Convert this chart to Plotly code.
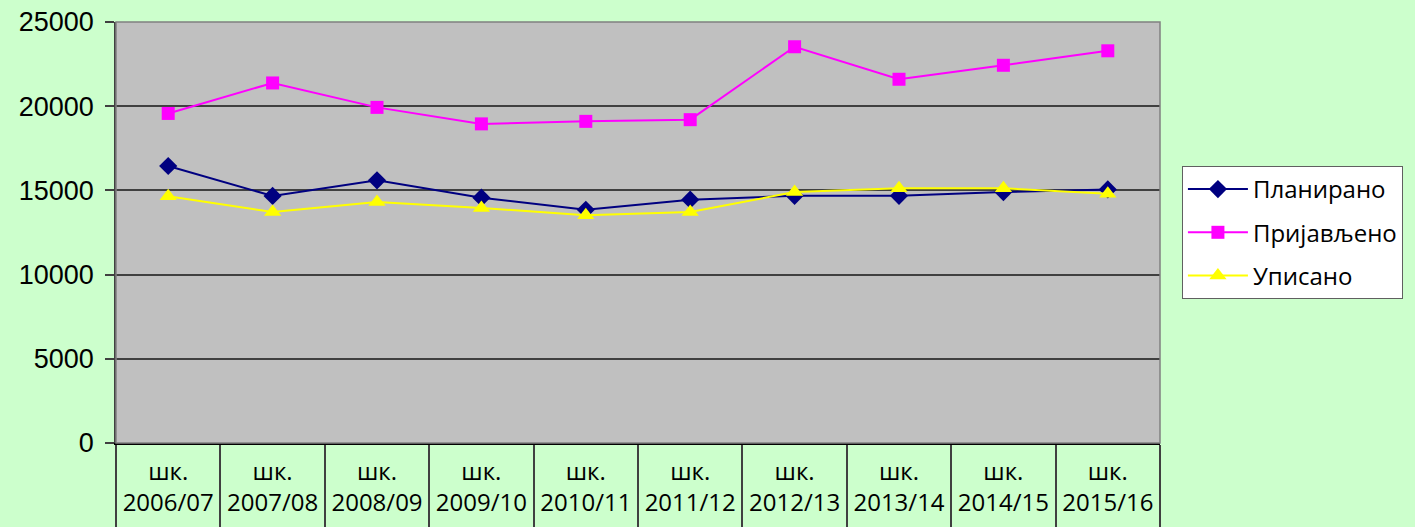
import plotly.graph_objects as go

categories = ["шк.<br>2006/07", "шк.<br>2007/08", "шк.<br>2008/09", "шк.<br>2009/10", "шк.<br>2010/11",
              "шк.<br>2011/12", "шк.<br>2012/13", "шк.<br>2013/14", "шк.<br>2014/15", "шк.<br>2015/16"]
planirano = [16450, 14670, 15600, 14570, 13850, 14450, 14680, 14680, 14900, 15060]
prijavljeno = [19570, 21380, 19930, 18950, 19100, 19200, 23530, 21600, 22430, 23290]
upisano = [14650, 13720, 14310, 13960, 13520, 13720, 14900, 15130, 15130, 14800]

fig = go.Figure()
fig.add_trace(go.Scatter(x=categories, y=planirano, name="Планирано", mode="lines+markers",
                         legendgroup="a",
                         line=dict(color="#000080", width=2),
                         marker=dict(symbol="diamond", size=14, color="#000080")))
fig.add_trace(go.Scatter(x=categories, y=prijavljeno, name="Пријављено", mode="lines+markers",
                         legendgroup="b",
                         line=dict(color="#FF00FF", width=2),
                         marker=dict(symbol="square", size=13, color="#FF00FF")))
fig.add_trace(go.Scatter(x=categories, y=upisano, name="Уписано", mode="lines+markers",
                         legendgroup="c",
                         line=dict(color="#FFFF00", width=2),
                         marker=dict(symbol="triangle-up", size=15, color="#FFFF00")))

fig.update_layout(
    width=1415, height=527,
    paper_bgcolor="#CCFFCC", plot_bgcolor="#C0C0C0",
    margin=dict(l=116, r=255, t=22, b=84, autoexpand=False),
    showlegend=True,
    legend=dict(x=1.021, y=0.5, xanchor="left", yanchor="middle",
                bgcolor="#FFFFFF", bordercolor="#606060", borderwidth=1,
                font=dict(family="Open Sans, sans-serif", size=24, color="#000000"),
                tracegroupgap=9, itemwidth=60, traceorder="grouped"),
    font=dict(family="Liberation Sans, Arial, sans-serif", color="#000000"),
    shapes=[dict(type="rect", xref="paper", yref="paper", x0=0, x1=1, y0=0, y1=1,
                 line=dict(color="#808080", width=1.5), fillcolor="rgba(0,0,0,0)", layer="above")],
)
fig.update_yaxes(range=[0, 25000], dtick=5000, tickformat="d", showgrid=True, gridcolor="#404040", gridwidth=1.5,
                 showline=True, linecolor="#404040", linewidth=1.5,
                 ticks="outside", ticklen=9, tickcolor="#404040", tickwidth=1.5,
                 ticklabelstandoff=6, automargin=False,
                 tickfont=dict(family="Liberation Sans, Arial, sans-serif", size=27, color="#000000"),
                 zeroline=False)
fig.update_xaxes(type="category", range=[-0.5, len(categories) - 0.5],
                 tickson="boundaries", ticks="outside", ticklen=84,
                 tickcolor="#404040", tickwidth=1.5, showgrid=False,
                 showline=True, linecolor="#000000", linewidth=1.5,
                 ticklabelstandoff=6, tickangle=0, automargin=False,
                 tickfont=dict(family="Open Sans, sans-serif", size=24, color="#000000"))

fig.write_html("out.html", config={"displayModeBar": False},
               post_script="document.body.style.margin='0';document.body.style.padding='0';")
